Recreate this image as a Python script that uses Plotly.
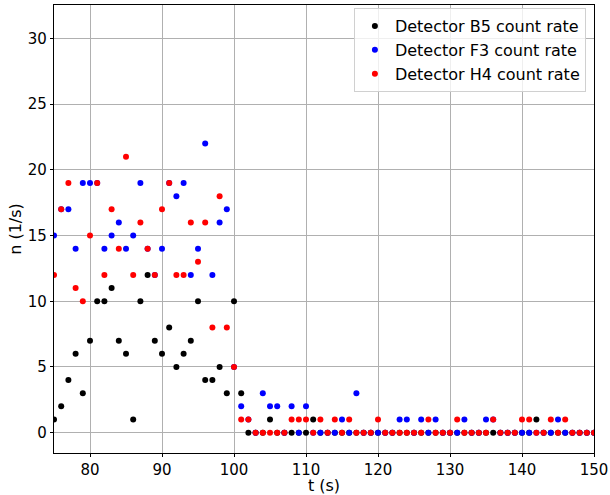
import plotly.graph_objects as go

t = list(range(75, 151))

b5 = [1, 2, 4, 6, 3, 7, 10, 10, 11, 7, 6, 1, 10, 12, 7, 6, 8, 5, 6, 7, 10, 4, 4, 5, 3, 10,
      3, 0, 0, 0, 1, 0, 0, 0, 0, 0, 1, 0, 0, 0, 0, 0, 0, 0, 0, 0, 0, 0, 0, 0, 0, 0, 0, 0, 0, 0, 0,
      0, 0, 0, 0, 0, 0, 0, 0, 0, 0, 1, 0, 0, 0, 0, 0, 0, 0, 0]

f3 = [15, 17, 17, 14, 19, 19, 19, 14, 15, 16, 14, 15, 19, 14, 12, 14, 19, 18, 19, 12, 14, 22, 12, 16, 17, 5,
      2, 1, 0, 3, 2, 2, 0, 2, 0, 2, 0, 0, 0, 0, 1, 0, 3, 0, 0, 0, 0, 0, 1, 1, 0,
      1, 0, 1, 0, 0, 0, 1, 0, 0, 1, 1, 0, 0, 0, 0, 0, 0, 0, 0, 1, 0, 0, 0, 0, 0]

h4 = [12, 17, 19, 11, 10, 15, 19, 12, 17, 14, 21, 12, 16, 14, 12, 17, 19, 12, 12, 16, 13, 16, 8, 18, 8, 5,
      1, 1, 0, 0, 0, 0, 0, 1, 1, 1, 0, 1, 0, 1, 0, 1, 0, 0, 0, 1, 0, 0, 0, 0, 0,
      0, 1, 0, 0, 0, 1, 0, 0, 0, 0, 1, 0, 0, 0, 1, 1, 0, 0, 1, 0, 1, 0, 0, 0, 0]

x_ticks = [80, 90, 100, 110, 120, 130, 140, 150]
y_ticks = [0, 5, 10, 15, 20, 25, 30]

names = ["Detector B5 count rate", "Detector F3 count rate", "Detector H4 count rate"]
colors = ["black", "blue", "red"]

fig = go.Figure()
for y, n, c in zip([b5, f3, h4], names, colors):
    fig.add_trace(go.Scatter(x=t, y=y, mode="markers", name=n,
                             marker=dict(color=c, size=6, line=dict(width=0)),
                             cliponaxis=True))

font = dict(family="DejaVu Sans", size=15, color="black")
lab_font = dict(family="DejaVu Sans", size=16, color="black")
axis_common = dict(showline=True, linecolor="black", linewidth=1.2, mirror=True,
                   showgrid=True, gridcolor="#b0b0b0", gridwidth=1,
                   ticks="outside", ticklen=3, tickcolor="black",
                   zeroline=False, tickfont=font, automargin=False)

fig.update_layout(
    width=610, height=495,
    margin=dict(l=54, r=16, t=5, b=42),
    plot_bgcolor="white", paper_bgcolor="white",
    font=font,
    showlegend=True,
    legend=dict(x=0.985, y=0.993, xanchor="right", yanchor="top",
                bgcolor="rgba(255,255,255,0.8)", bordercolor="#d0d0d0", borderwidth=1,
                font=dict(family="DejaVu Sans", size=16, color="black"),
                itemsizing="trace", tracegroupgap=0),
    xaxis=dict(range=[75, 150], tickvals=x_ticks,
               title=dict(text="t (s)", font=lab_font, standoff=1), **axis_common),
    yaxis=dict(range=[-1.55, 32.55], tickvals=y_ticks,
               title=dict(text="n (1/s)", font=lab_font, standoff=2), **axis_common),
)

fig.write_html("out.html", config={"displayModeBar": False},
               post_script="document.body.style.margin='0px';")
